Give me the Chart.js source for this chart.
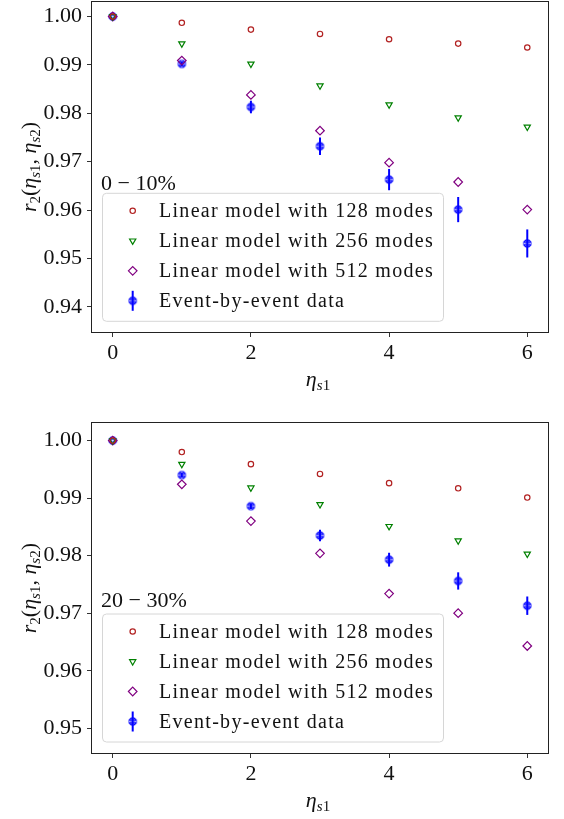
<!DOCTYPE html>
<html>
<head>
<meta charset="utf-8">
<script src="https://cdn.jsdelivr.net/npm/chart.js@4.4.0/dist/chart.umd.min.js"></script>
<style>
  html, body { margin: 0; padding: 0; background: #fff; }
  .panel { position: absolute; left: 0; width: 564px; }
  #p1 { top: 0; height: 400px; }
  #p2 { top: 410px; height: 409px; }
</style>
</head>
<body>
<div class="panel" id="p1"><canvas id="c1" width="564" height="400"></canvas></div>
<div class="panel" id="p2"><canvas id="c2" width="564" height="409"></canvas></div>
<script>
// r2(eta_s1, eta_s2) vs eta_s1, two centrality classes

const etaS1 = [0, 1, 2, 3, 4, 5, 6];
const xTicks = [0, 2, 4, 6];

// 0-10%
const central128 = [1.0, 0.9987, 0.9973, 0.9964, 0.9953, 0.9944, 0.9936];
const central256 = [1.0, 0.9944, 0.9902, 0.9857, 0.9818, 0.9791, 0.9772];
const central512 = [1.0, 0.9909, 0.9838, 0.9764, 0.9698, 0.9658, 0.9601];
const centralData = [1.0, 0.9902, 0.9813, 0.9732, 0.9663, 0.9601, 0.9531];
const centralErr = [0, 0.0005, 0.0013, 0.0018, 0.0022, 0.0026, 0.0029];
const centralYTicks = [0.94, 0.95, 0.96, 0.97, 0.98, 0.99, 1.00];

// 20-30%
const mid128 = [1.0, 0.9980, 0.9959, 0.9942, 0.9926, 0.9917, 0.9901];
const mid256 = [1.0, 0.9959, 0.9918, 0.9889, 0.9851, 0.9826, 0.9803];
const mid512 = [1.0, 0.9924, 0.9860, 0.9804, 0.9734, 0.9700, 0.9643];
const midData = [1.0, 0.9940, 0.9886, 0.9835, 0.9793, 0.9756, 0.9713];
const midErr = [0, 0.0004, 0.0005, 0.0010, 0.0012, 0.0015, 0.0016];
const midYTicks = [0.95, 0.96, 0.97, 0.98, 0.99, 1.00];

const seriesLabels = [
  'Linear model with 128 modes',
  'Linear model with 256 modes',
  'Linear model with 512 modes',
  'Event-by-event data'
];

const SERIF = '"Liberation Serif", "DejaVu Serif", serif';
const BLUE = '#0000ff';

// hatched circle used for the data points
function hashMarker() {
  const c = document.createElement('canvas');
  c.width = 11; c.height = 11;
  const g = c.getContext('2d');
  g.strokeStyle = BLUE; g.lineWidth = 1;
  g.beginPath(); g.arc(5.5, 5.5, 3.7, 0, Math.PI * 2); g.stroke();
  g.beginPath();
  g.moveTo(4, 1.5); g.lineTo(4, 9.5);
  g.moveTo(7, 1.5); g.lineTo(7, 9.5);
  g.moveTo(1.5, 4); g.lineTo(9.5, 4);
  g.moveTo(1.5, 7); g.lineTo(9.5, 7);
  g.stroke();
  return c;
}
const dataMarker = hashMarker();

const styles = [
  { color: '#b22222', pointStyle: 'circle', radius: 2.7, rotation: 0, borderWidth: 1.2 },
  { color: '#008000', pointStyle: 'triangle', radius: 3.6, rotation: 180, borderWidth: 1.2 },
  { color: '#800080', pointStyle: 'rectRot', radius: 4.3, rotation: 0, borderWidth: 1.2 },
  { color: BLUE, pointStyle: dataMarker, radius: 5, rotation: 0, borderWidth: 1 }
];

// draw a run of text pieces (for subscripts and italics) centred on x
function drawRuns(ctx, runs, x, y) {
  let total = 0;
  runs.forEach(r => { ctx.font = r.font; total += ctx.measureText(r.t).width; });
  let cx = x - total / 2;
  ctx.textAlign = 'left';
  ctx.textBaseline = 'alphabetic';
  runs.forEach(r => {
    ctx.font = r.font;
    ctx.fillText(r.t, cx, y + (r.dy || 0));
    cx += ctx.measureText(r.t).width;
  });
}

const big = '22px ' + SERIF, bigIt = 'italic 22px ' + SERIF;
const sub = '15px ' + SERIF, subIt = 'italic 15px ' + SERIF;
const xTitle = [
  { t: 'η', font: bigIt }, { t: 's', font: subIt, dy: 4 }, { t: '1', font: sub, dy: 4 }
];
const yTitle = [
  { t: 'r', font: bigIt }, { t: '2', font: sub, dy: 4 }, { t: '(', font: big },
  { t: 'η', font: bigIt }, { t: 's', font: subIt, dy: 4 }, { t: '1', font: sub, dy: 4 },
  { t: ', ', font: big },
  { t: 'η', font: bigIt }, { t: 's', font: subIt, dy: 4 }, { t: '2', font: sub, dy: 4 },
  { t: ')', font: big }
];

function makePanel(id, p) {
  const values = [p.m128, p.m256, p.m512, p.data];
  const datasets = values.map((vals, i) => ({
    label: seriesLabels[i],
    data: etaS1.map((x, k) => ({ x: x, y: vals[k] })),
    showLine: false,
    pointStyle: styles[i].pointStyle,
    pointRadius: styles[i].radius,
    pointRotation: styles[i].rotation,
    borderColor: styles[i].color,
    backgroundColor: 'rgba(0,0,0,0)',
    pointBorderWidth: styles[i].borderWidth
  }));

  const decor = {
    id: 'decor',
    beforeDatasetDraw(chart, args) {
      if (args.index !== 3) return;
      const ctx = chart.ctx, xs = chart.scales.x, ys = chart.scales.y;
      ctx.save();
      ctx.strokeStyle = BLUE; ctx.lineWidth = 2;
      etaS1.forEach((x, k) => {
        if (!p.err[k]) return;
        const px = xs.getPixelForValue(x);
        ctx.beginPath();
        ctx.moveTo(px, ys.getPixelForValue(p.data[k] - p.err[k]));
        ctx.lineTo(px, ys.getPixelForValue(p.data[k] + p.err[k]));
        ctx.stroke();
      });
      ctx.restore();
    },
    afterDraw(chart) {
      const ctx = chart.ctx, a = chart.chartArea;
      ctx.save();
      // frame
      ctx.strokeStyle = '#222'; ctx.lineWidth = 1;
      ctx.strokeRect(Math.round(a.left) - 0.5, Math.round(a.top) - 0.5,
        Math.round(a.right - a.left) + 1, Math.round(a.bottom - a.top) + 1);

      // centrality tag
      ctx.fillStyle = '#111';
      ctx.font = big; ctx.textAlign = 'left'; ctx.textBaseline = 'alphabetic';
      ctx.fillText(p.tag, 101, p.tagY);

      // legend
      const lx = 102.5, ly = p.legendTop, lw = 341, lh = 128;
      ctx.beginPath();
      ctx.roundRect(lx, ly, lw, lh, 4);
      ctx.fillStyle = 'rgba(255,255,255,0.8)'; ctx.fill();
      ctx.strokeStyle = '#d6d6d6'; ctx.lineWidth = 1; ctx.stroke();
      seriesLabels.forEach((lab, i) => {
        const cy = ly + 17.5 + i * 30;
        const s = styles[i];
        if (i === 3) {
          ctx.strokeStyle = BLUE; ctx.lineWidth = 2;
          ctx.beginPath(); ctx.moveTo(132.7, cy - 10); ctx.lineTo(132.7, cy + 10); ctx.stroke();
        }
        ctx.fillStyle = 'rgba(0,0,0,0)';
        ctx.strokeStyle = s.color; ctx.lineWidth = s.borderWidth;
        Chart.helpers.drawPoint(ctx, {
          pointStyle: s.pointStyle, radius: s.radius, rotation: s.rotation,
          borderWidth: s.borderWidth
        }, 132.7, cy);
        ctx.fillStyle = '#111';
        ctx.font = '20px ' + SERIF;
        ctx.letterSpacing = '1.3px';
        ctx.fillText(lab, 159, cy + 6.6);
        ctx.letterSpacing = '0px';
      });

      // axis titles
      ctx.fillStyle = '#111';
      drawRuns(ctx, xTitle, 318, p.xTitleY);
      ctx.translate(36, (a.top + a.bottom) / 2);
      ctx.rotate(-Math.PI / 2);
      drawRuns(ctx, yTitle, 0, 0);
      ctx.restore();
    }
  };

  const tickFont = { family: SERIF, size: 22 };
  return new Chart(document.getElementById(id), {
    type: 'scatter',
    data: { datasets: datasets },
    options: {
      responsive: false,
      animation: false,
      layout: { autoPadding: false, padding: { top: p.padTop, right: 16, left: 0, bottom: 0 } },
      plugins: { legend: { display: false }, tooltip: { enabled: false } },
      scales: {
        x: {
          type: 'linear', min: -0.3, max: 6.3,
          afterBuildTicks: s => { s.ticks = xTicks.map(v => ({ value: v })); },
          afterFit: s => { s.height = p.axisH; s.paddingLeft = 0; s.paddingRight = 0; },
          ticks: { font: tickFont, color: '#111', padding: 3, maxRotation: 0, autoSkip: false },
          grid: { drawOnChartArea: false, tickLength: 5, color: '#333', lineWidth: 1 },
          border: { display: false }
        },
        y: {
          type: 'linear', min: p.yMin, max: p.yMax,
          afterBuildTicks: s => { s.ticks = p.yTicks.map(v => ({ value: v })); },
          afterFit: s => { s.width = 92; s.paddingTop = 0; s.paddingBottom = 0; },
          ticks: { font: tickFont, color: '#111', padding: 5, callback: v => v.toFixed(2) },
          grid: { drawOnChartArea: false, tickLength: 5, color: '#333', lineWidth: 1 },
          border: { display: false }
        }
      }
    },
    plugins: [decor]
  });
}

makePanel('c1', {
  m128: central128, m256: central256, m512: central512, data: centralData, err: centralErr,
  yMin: 0.9348, yMax: 1.0030, yTicks: centralYTicks,
  padTop: 2, axisH: 68, tag: '0 − 10%', tagY: 190, legendTop: 193.3, xTitleY: 386
});
makePanel('c2', {
  m128: mid128, m256: mid256, m512: mid512, data: midData, err: midErr,
  yMin: 0.9457, yMax: 1.0030, yTicks: midYTicks,
  padTop: 13.3, axisH: 66, tag: '20 − 30%', tagY: 197.3, legendTop: 204, xTitleY: 397
});
</script>
</body>
</html>
